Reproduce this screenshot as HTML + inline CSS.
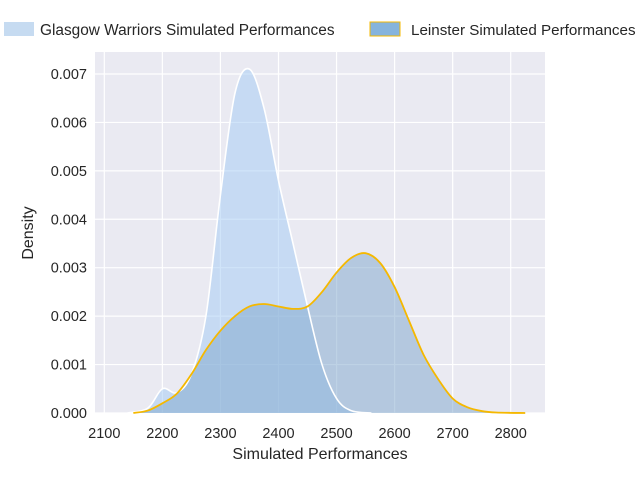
<!DOCTYPE html>
<html><head><meta charset="utf-8"><style>
body{margin:0;background:#fff;font-family:"Liberation Sans",sans-serif}
svg text{font-family:"Liberation Sans",sans-serif;fill:#262626}
</style></head><body>
<svg id="c" width="640" height="480">
<rect x="95" y="52" width="450" height="361" fill="#eaeaf2"/>
<g id="grid"></g><g id="marks"></g><g id="axes"></g>
<g>
<rect x="4" y="22" width="30" height="14" fill="#c6dbf1"/>
<text x="40" y="35" font-size="15.4">Glasgow Warriors Simulated Performances</text>
<rect x="370" y="22" width="30" height="14" fill="#86b4dc" stroke="#f5b800" stroke-width="1"/>
<text x="411" y="35" font-size="15.2">Leinster Simulated Performances</text>
</g>
<text x="320" y="459" font-size="16" text-anchor="middle">Simulated Performances</text>
<text transform="translate(33,233) rotate(-90)" font-size="16" text-anchor="middle">Density</text>
</svg>
<script>
const xTicks=[2100,2200,2300,2400,2500,2600,2700,2800];
const yTicks=[0,0.001,0.002,0.003,0.004,0.005,0.006,0.007];
const glasgowX=[2140,2175,2200,2225,2250,2275,2300,2325,2350,2375,2400,2425,2450,2475,2500,2525,2560];
const glasgowY=[0,0.0001,0.0005,0.00042,0.0008,0.002,0.0045,0.0066,0.0071,0.0063,0.0048,0.0035,0.0022,0.001,0.0003,0.00005,0];
const leinsterX=[2150,2175,2200,2225,2250,2275,2300,2325,2350,2375,2400,2425,2450,2475,2500,2525,2550,2575,2600,2625,2650,2675,2700,2725,2750,2775,2825];
const leinsterY=[0,0.00005,0.0002,0.0004,0.0008,0.0013,0.0017,0.002,0.0022,0.00225,0.0022,0.00215,0.0022,0.0025,0.0029,0.0032,0.0033,0.0031,0.0026,0.0019,0.0012,0.0007,0.0003,0.00012,0.00004,0.00001,0];
const sx=v=>104.3+(v-2100)*0.5806, sy=v=>413-v*48430;
const NS='http://www.w3.org/2000/svg';
function mk(t,a,p){const e=document.createElementNS(NS,t);for(const k in a)e.setAttribute(k,a[k]);p.appendChild(e);return e;}
const grid=document.getElementById('grid'),axes=document.getElementById('axes'),marks=document.getElementById('marks');
xTicks.forEach(t=>{const l=mk('line',{x1:sx(t),x2:sx(t),y1:52,y2:413,stroke:'#fff','stroke-width':1.2},grid);


const tx=mk('text',{x:sx(t),y:438,'font-size':14.5,'text-anchor':'middle'},axes);tx.textContent=t;

});
yTicks.forEach(t=>{const l=mk('line',{x1:95,x2:545,y1:sy(t),y2:sy(t),stroke:'#fff','stroke-width':1.2},grid);


const tx=mk('text',{x:87,y:sy(t)+5,'font-size':14.5,'text-anchor':'end'},axes);tx.textContent=t.toFixed(3);

});
function path(xs,ys){const P=xs.map((x,i)=>[sx(x),sy(ys[i])]);let d='M'+P[0][0]+','+P[0][1];
for(let i=0;i<P.length-1;i++){const p0=P[i-1]||P[i],p1=P[i],p2=P[i+1],p3=P[i+2]||p2;
let c1y=p1[1]+(p2[1]-p0[1])/6,c2y=p2[1]-(p3[1]-p1[1])/6;c1y=Math.min(c1y,413);c2y=Math.min(c2y,413);
d+=` C${p1[0]+(p2[0]-p0[0])/6},${c1y} ${p2[0]-(p3[0]-p1[0])/6},${c2y} ${p2[0]},${p2[1]}`;}return d;}
const gd=path(glasgowX,glasgowY),ld=path(leinsterX,leinsterY);
const ga=mk('path',{d:gd+`L${sx(glasgowX[glasgowX.length-1])},413 L${sx(glasgowX[0])},413Z`,fill:'#a1c9f4','fill-opacity':0.5},marks);


const la=mk('path',{d:ld+`L${sx(leinsterX[leinsterX.length-1])},413 L${sx(leinsterX[0])},413Z`,fill:'#7ea6cc','fill-opacity':0.5},marks);


const gl=mk('path',{d:gd,fill:'none',stroke:'#fff','stroke-width':1.6},marks);


const ll=mk('path',{d:ld,fill:'none',stroke:'#f5b800','stroke-width':1.8},marks);


</script>
</body></html>
